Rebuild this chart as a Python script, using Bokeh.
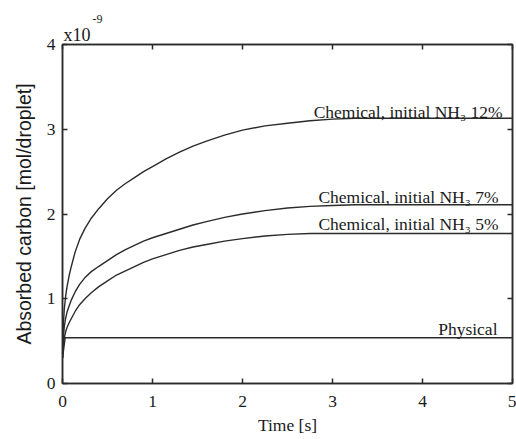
from bokeh.plotting import figure
from bokeh.models import LinearAxis, Label, Range1d, FixedTicker, Title
from bokeh.embed import file_html
from bokeh.resources import INLINE

# Absorbed carbon per droplet, in units of 1e-9 mol
time_s = [0, 0.005, 0.01, 0.02, 0.035, 0.05, 0.075, 0.1, 0.14, 0.19, 0.25, 0.32, 0.4, 0.5, 0.6,
          0.7, 0.8, 0.9, 1.0, 1.15, 1.3, 1.45, 1.6, 1.8, 2.0, 2.25, 2.5, 2.75, 3.0, 3.25, 3.5, 5.0]
chem_nh3_12 = [0.3, 0.55, 0.7, 0.88, 1.03, 1.14, 1.28, 1.39, 1.55, 1.7, 1.83, 1.95, 2.06, 2.18, 2.28,
               2.36, 2.43, 2.5, 2.56, 2.65, 2.73, 2.8, 2.86, 2.93, 2.99, 3.04, 3.07, 3.1, 3.12, 3.13, 3.13, 3.13]
chem_nh3_7 = [0.3, 0.45, 0.55, 0.67, 0.77, 0.84, 0.92, 0.99, 1.08, 1.17, 1.25, 1.32, 1.38, 1.45, 1.52,
              1.58, 1.63, 1.68, 1.72, 1.77, 1.82, 1.87, 1.91, 1.96, 2.0, 2.04, 2.07, 2.09, 2.1, 2.11, 2.11, 2.11]
chem_nh3_5 = [0.3, 0.4, 0.46, 0.54, 0.61, 0.66, 0.72, 0.77, 0.85, 0.93, 1.0, 1.07, 1.14, 1.21, 1.28,
              1.33, 1.38, 1.43, 1.47, 1.52, 1.57, 1.61, 1.64, 1.68, 1.71, 1.74, 1.76, 1.77, 1.77, 1.77, 1.77, 1.77]
phys_time = [0, 0.03, 5.0]
physical = [0.3, 0.54, 0.54]

x_ticks = [0, 1, 2, 3, 4, 5]
y_ticks = [0, 1, 2, 3, 4]

SERIF = "Liberation Serif"
INK = "#1a1a1a"
LINE = "#2b2b2b"

p = figure(width=516, height=439, output_backend="svg", toolbar_location=None,
           x_range=Range1d(0, 5), y_range=Range1d(0, 4),
           min_border_left=62, min_border_right=4, min_border_top=44, min_border_bottom=56,
           x_axis_label="Time [s]", y_axis_label="Absorbed carbon [mol/droplet]")
p.grid.visible = False
p.outline_line_color = LINE
p.outline_line_width = 1.5
p.background_fill_color = "white"
p.border_fill_color = "white"

p.xaxis.ticker = FixedTicker(ticks=x_ticks)
p.yaxis.ticker = FixedTicker(ticks=y_ticks)
for ax in (p.xaxis[0], p.yaxis[0]):
    ax.major_tick_in = 5
    ax.major_tick_out = 0
    ax.minor_tick_in = 0
    ax.minor_tick_out = 0
    ax.axis_line_color = LINE
    ax.axis_line_width = 1.5
    ax.major_tick_line_color = LINE
    ax.major_tick_line_width = 1.5
    ax.major_label_text_font = SERIF
    ax.major_label_text_font_size = "17.5px"
    ax.major_label_text_color = INK
    ax.axis_label_text_font_style = "normal"
    ax.axis_label_text_color = INK

p.xaxis.major_label_standoff = 12
p.xaxis.axis_label_text_font = SERIF
p.xaxis.axis_label_text_font_size = "17.5px"
p.xaxis.axis_label_standoff = 5
p.yaxis.major_label_standoff = 7
p.yaxis.axis_label_text_font = "Liberation Sans"
p.yaxis.axis_label_text_font_size = "19.5px"
p.yaxis.axis_label_standoff = 9

# tick marks on the top and right edges of the box
for side, ticks, gap in (("above", x_ticks, 3), ("right", y_ticks, 0)):
    ax = LinearAxis(ticker=FixedTicker(ticks=ticks), major_tick_in=5, major_tick_out=0,
                    minor_tick_in=0, minor_tick_out=0, axis_line_color=LINE, axis_line_width=1.5,
                    major_tick_line_color=LINE, major_tick_line_width=1.5,
                    major_label_text_font_size="1px", major_label_text_alpha=0,
                    major_label_standoff=gap)
    p.add_layout(ax, side)

# axis multiplier written above the top-left corner of the box
p.add_layout(Title(text="x10", align="left", offset=1, standoff=0, text_font=SERIF,
                   text_font_size="18px", text_font_style="normal", text_color=INK,
                   text_line_height=0.7), "above")
p.add_layout(Title(text="-9", align="left", offset=30, standoff=0, text_font=SERIF,
                   text_font_size="12px", text_font_style="normal", text_color=INK), "above")

for ys in (chem_nh3_12, chem_nh3_7, chem_nh3_5):
    p.line(time_s, ys, line_color=LINE, line_width=1.4)
p.line(phys_time, physical, line_color=LINE, line_width=1.4)

curve_labels = [
    ("Chemical, initial NH\u2083 12%", chem_nh3_12[-1], -10, 6),
    ("Chemical, initial NH\u2083 7%", chem_nh3_7[-1], -14, 8),
    ("Chemical, initial NH\u2083 5%", chem_nh3_5[-1], -14, 9),
    ("Physical", physical[-1], -15, 9),
]
for text, yv, dx, dy in curve_labels:
    p.add_layout(Label(x=5, y=yv, x_offset=dx, y_offset=dy, text=text, text_align="right",
                       text_baseline="alphabetic", text_font=SERIF, text_font_size="17.5px",
                       text_color=INK))

open("out.html", "w").write(file_html(p, INLINE))
